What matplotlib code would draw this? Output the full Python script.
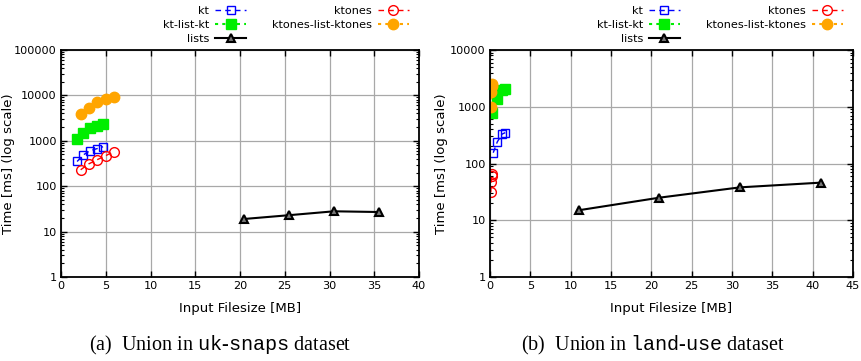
import numpy as np
import matplotlib.pyplot as plt
from matplotlib.ticker import FixedLocator, LogLocator, NullFormatter, FuncFormatter

plt.rcParams['font.family'] = ['DejaVu Sans']
plt.rcParams['mathtext.fontset'] = 'custom'
plt.rcParams['mathtext.rm'] = 'Liberation Serif'
plt.rcParams['mathtext.tt'] = 'Liberation Mono'

# ---- uk-snaps data (a) ----
kt_a_x = [1.8, 2.5, 3.2, 4.0, 4.7]
kt_a_y = [350, 490, 600, 670, 740]
ktones_a_x = [2.2, 3.1, 4.0, 5.0, 5.9]
ktones_a_y = [230, 310, 380, 470, 580]
ktlist_a_x = [1.8, 2.5, 3.2, 4.0, 4.7]
ktlist_a_y = [1100, 1500, 1900, 2150, 2350]
ktoneslist_a_x = [2.2, 3.1, 4.0, 5.0, 5.9]
ktoneslist_a_y = [3800, 5200, 7000, 8200, 9000]
lists_a_x = [20.5, 25.5, 30.5, 35.5]
lists_a_y = [19, 23, 28, 27]

# ---- land-use data (b) ----
kt_b_x = [0.4, 0.9, 1.5, 1.9]
kt_b_y = [155, 240, 330, 350]
ktones_b_x = [0.1, 0.15, 0.2, 0.3]
ktones_b_y = [31, 47, 60, 65]
ktlist_b_x = [0.3, 0.9, 1.5, 1.9]
ktlist_b_y = [780, 1380, 1990, 2080]
ktoneslist_b_x = [0.1, 0.15, 0.25, 0.3]
ktoneslist_b_y = [1000, 1850, 2300, 2500]
lists_b_x = [11, 21, 31, 41]
lists_b_y = [15, 25, 38, 46]

panels = [
    dict(kt=(kt_a_x, kt_a_y), ktones=(ktones_a_x, ktones_a_y),
         ktlist=(ktlist_a_x, ktlist_a_y), ktoneslist=(ktoneslist_a_x, ktoneslist_a_y),
         lists=(lists_a_x, lists_a_y), xmax=40, ymax=1e5,
         rect=[61 / 862, 84 / 361, 358 / 862, 227 / 361], legx=0.285, ylab=-0.128,
         caption=r"(a)  Union in $\mathtt{uk}$-$\mathtt{snaps}$ dataset", capx=220 / 862),
    dict(kt=(kt_b_x, kt_b_y), ktones=(ktones_b_x, ktones_b_y),
         ktlist=(ktlist_b_x, ktlist_b_y), ktoneslist=(ktoneslist_b_x, ktoneslist_b_y),
         lists=(lists_b_x, lists_b_y), xmax=45, ymax=1e4,
         rect=[490 / 862, 84 / 361, 363 / 862, 227 / 361], legx=0.294, ylab=-0.115,
         caption=r"(b)  Union in $\mathtt{land}$-$\mathtt{use}$ dataset", capx=653 / 862),
]

fig = plt.figure(figsize=(8.62, 3.61), dpi=100, facecolor="white")

for p in panels:
    ax = fig.add_axes(p["rect"])
    ax.set_yscale("log")

    h_kt, = ax.plot(*p["kt"], color="#0000ff", ls=(0, (4, 3)), lw=1,
                    marker="s", ms=6, mfc="none", mec="#0000ff", mew=1)
    h_ktl, = ax.plot(*p["ktlist"], color="#00ee00", ls=(0, (1.5, 2)), lw=1.5,
                     marker="s", ms=7, mfc="#00ee00", mec="#00ee00")
    h_lists, = ax.plot(*p["lists"], color="black", ls="-", lw=1.5,
                       marker="^", ms=6, mfc="#777777", mec="black", mew=1.5)
    h_kto, = ax.plot(*p["ktones"], color="#ff0000", ls=(0, (4, 3)), lw=1,
                     marker="o", ms=7, mfc="none", mec="#ff0000", mew=1)
    h_ktol, = ax.plot(*p["ktoneslist"], color="#ffa500", ls=(0, (1.5, 2)), lw=1.5,
                      marker="o", ms=7.5, mfc="#ffa500", mec="#ffa500")

    ax.set_xlim(0, p["xmax"])
    ax.set_ylim(1, p["ymax"])
    ax.xaxis.set_major_locator(FixedLocator(np.arange(0, p["xmax"] + 1, 5)))
    ax.yaxis.set_major_locator(LogLocator(base=10, numticks=10))
    ax.yaxis.set_minor_locator(LogLocator(base=10, subs=np.arange(2, 10), numticks=10))
    ax.yaxis.set_minor_formatter(NullFormatter())
    ax.yaxis.set_major_formatter(FuncFormatter(lambda v, pos: "%d" % round(v)))

    ax.grid(True, which="major", color="#a8a8a8", lw=0.9)
    ax.set_axisbelow(True)
    ax.tick_params(which="both", direction="in", top=True, right=True, labelsize=8.1,
                   color="black", pad=3)
    ax.tick_params(which="major", length=4, width=1)
    ax.tick_params(which="minor", length=2, width=0.8)
    for s in ax.spines.values():
        s.set_linewidth(1.3)

    ax.set_xlabel("Input Filesize [MB]", fontsize=9.5, labelpad=8)
    ax.set_ylabel("Time [ms] (log scale)", fontsize=9.5)
    ax.yaxis.set_label_coords(p["ylab"], 0.5)

    ax.legend([h_kt, h_ktl, h_lists, h_kto, h_ktol],
              ["kt", "kt-list-kt", "lists", "ktones", "ktones-list-ktones"],
              ncol=2, markerfirst=False, frameon=False, fontsize=8.1,
              loc="lower left", bbox_to_anchor=(p["legx"], 1.028),
              borderpad=0, borderaxespad=0, handlelength=2.75, handletextpad=0.53,
              columnspacing=2.3, labelspacing=0.36)

    fig.text(p["capx"], 16 / 361, p["caption"], ha="center", va="center",
             fontsize=14.5, family="Liberation Serif")

fig.savefig("out.png", dpi=100, facecolor="white")
plt.close(fig)
